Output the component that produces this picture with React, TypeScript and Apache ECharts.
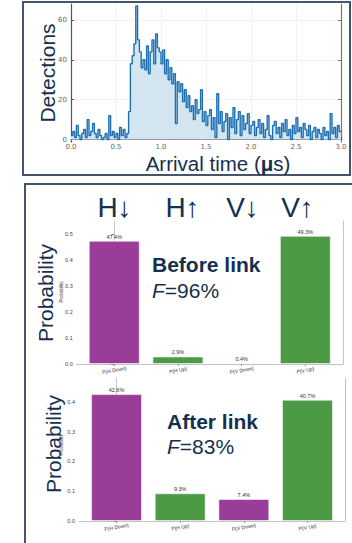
import React, { useEffect, useRef } from "react";
import * as echarts from "echarts";

// ---------- data ----------
const binWidth = 0.02; // µs per histogram bin, bins start at 0.00
const detections = [
  2, 4, 1, 7, 2,
  0, 3, 5, 1, 10,
  2, 4, 8, 3, 1,
  5, 2, 0, 1, 3,
  0, 12, 2, 4, 1,
  3, 0, 6, 2, 5,
  1, 3, 14, 38, 42,
  48, 67, 50, 44, 36,
  40, 35, 47, 33, 44,
  50, 38, 53, 46, 44,
  38, 45, 33, 40, 30,
  36, 28, 33, 8, 29,
  24, 28, 19, 25, 16,
  22, 14, 17, 10, 20,
  13, 15, 25, 9, 14,
  7, 12, 15, 5, 11,
  1, 23, 8, 14, 4,
  9, 13, 0, 11, 6,
  16, 3, 10, 14, 2,
  12, 5, 8, 13, 3,
  7, 9, 2, 6, 10,
  3, 8, 1, 5, 12,
  2, 0, 7, 9, 3,
  6, 1, 8, 4, 10,
  2, 5, 0, 7, 3,
  11, 4, 6, 1, 8,
  5, 2, 7, 0, 4,
  6, 1, 5, 3, 0,
  6, 2, 4, 0, 13,
  3, 6, 1, 7, 4,
];
const detectionTicks = [0, 20, 40, 60];

const categories = ["P(H Down)", "P(H Up)", "P(V Down)", "P(V Up)"];
const stateLabels = ["H↓", "H↑", "V↓", "V↑"];
const beforeLink = [0.474, 0.029, 0.004, 0.493];
const afterLink = [0.426, 0.093, 0.074, 0.407];
const beforeTicks = [0, 0.1, 0.2, 0.3, 0.4, 0.5];
const afterTicks = [0, 0.1, 0.2, 0.3, 0.4];

// ---------- styles ----------
const NAVY = "#172f4f";
const PURPLE = "#993d99";
const GREEN = "#4c9a46";
const barColors = [PURPLE, GREEN, PURPLE, GREEN];
const FRAME = "#44546a";
const SANS = '"Liberation Sans", Arial, sans-serif';

export default function App() {
  const ref = useRef<HTMLDivElement>(null);
  useEffect(() => {
    if (!ref.current) return;
    const chart = echarts.init(ref.current, undefined, { renderer: "svg" });

    const histData: [number, number][] = detections.map((v, i) => [
      +(i * binWidth).toFixed(2),
      v,
    ]);
    histData.push([+(detections.length * binWidth).toFixed(2), detections[detections.length - 1]]);

    const spineX = (grid: number) => ({
      type: "value",
      gridIndex: grid,
      min: -0.59,
      max: 3.59,
      axisLine: { show: true, lineStyle: { color: "#c4c4c4", width: 1 } },
      axisTick: { show: false },
      axisLabel: { show: false },
      splitLine: { show: false },
    });
    const catX = (grid: number) => ({
      type: "category",
      gridIndex: grid,
      data: categories,
      axisLine: { show: false },
      axisTick: { show: true, alignWithLabel: true, length: 2, lineStyle: { color: "#999" } },
      axisLabel: {
        rotate: 10,
        fontSize: 5,
        color: "#333",
        fontFamily: SANS,
        margin: 6,
        align: "center",
        verticalAlign: "middle",
      },
    });
    const probY = (grid: number, max: number, ticks: number[]) => ({
      type: "value",
      gridIndex: grid,
      min: 0,
      max,
      axisLine: { show: true, lineStyle: { color: "#c4c4c4", width: 1 } },
      axisTick: { show: true, length: 3, customValues: ticks, lineStyle: { color: "#888" } },
      axisLabel: {
        customValues: ticks,
        formatter: (v: number) => v.toFixed(1),
        fontSize: 5.5,
        color: "#444",
        fontFamily: SANS,
        margin: 4,
      },
      splitLine: { show: false },
    });
    const rightSpine = (grid: number, max: number) => ({
      type: "value",
      gridIndex: grid,
      position: "right",
      min: 0,
      max,
      axisLine: { show: true, lineStyle: { color: "#c4c4c4", width: 1 } },
      axisTick: { show: false },
      axisLabel: { show: false },
      splitLine: { show: false },
    });
    const hiddenY = (grid: number, max: number) => ({
      type: "value",
      gridIndex: grid,
      min: 0,
      max,
      show: false,
      splitLine: { show: false },
    });
    const barSeries = (xi: number, yi: number, vals: number[]) => ({
      type: "bar",
      xAxisIndex: xi,
      yAxisIndex: yi,
      barWidth: "80%",
      data: vals.map((v, i) => ({
        value: v,
        itemStyle: { color: barColors[i], borderColor: "rgba(255,255,255,0.55)", borderWidth: 1 },
      })),
      label: {
        show: true,
        position: "top",
        distance: 1,
        formatter: (p: any) => (p.value * 100).toFixed(1) + "%",
        fontSize: 5.5,
        color: "#333",
        fontFamily: SANS,
      },
    });

    const bigText = (text: string, x: number, y: number, size: number, extra: any = {}) => ({
      type: "text",
      x,
      y,
      ...extra,
      style: {
        text,
        fontSize: size,
        fontFamily: SANS,
        fill: NAVY,
        align: extra.align || "center",
        verticalAlign: "middle",
        textAlign: extra.align || "center",
        textVerticalAlign: "middle",
        fontWeight: extra.fontWeight || "normal",
      },
    });

    const fidelity = (val: string, x: number, y: number) => ({
      type: "text",
      x,
      y,
      style: {
        text: "{i|F}{r|=" + val + "}",
        rich: {
          i: { fontSize: 21, fontFamily: SANS, fontStyle: "italic", fill: NAVY, color: NAVY },
          r: { fontSize: 21, fontFamily: SANS, fill: NAVY, color: NAVY },
        },
        align: "left",
        verticalAlign: "middle",
        textAlign: "left",
        textVerticalAlign: "middle",
      },
    });

    const stateX = [114.5, 182.5, 242.5, 297.5];

    chart.setOption({
      animation: false,
      backgroundColor: "#ffffff",
      grid: [
        { left: 71, right: 11, top: 4, bottom: 401 },
        { left: 76.7, width: 266.3, top: 221, bottom: 179 },
        { left: 82.4, width: 254.8, top: 221, bottom: 179 },
        { left: 79, width: 266, top: 378, bottom: 22 },
        { left: 84.7, width: 254.6, top: 378, bottom: 22 },
      ],
      xAxis: [
        {
          type: "value",
          gridIndex: 0,
          min: 0,
          max: 3,
          interval: 0.5,
          axisLine: { show: true, lineStyle: { color: "#555", width: 1.2 } },
          axisTick: { show: true, inside: true, length: 3, lineStyle: { color: "#555" } },
          axisLabel: {
            formatter: (v: number) => v.toFixed(1),
            fontSize: 7,
            lineHeight: 7,
            color: "#666",
            fontFamily: '"DejaVu Sans", sans-serif',
            margin: 1.5,
          },
          splitLine: { show: true, lineStyle: { color: "#e6e6e6", type: "dotted", width: 1 } },
        },
        spineX(1),
        catX(2),
        spineX(3),
        catX(4),
      ],
      yAxis: [
        {
          type: "value",
          gridIndex: 0,
          min: -1.25,
          max: 68,
          axisLine: { show: true, lineStyle: { color: "#555", width: 1.2 } },
          axisTick: { show: true, inside: true, length: 3, customValues: detectionTicks, lineStyle: { color: "#555" } },
          axisLabel: {
            customValues: detectionTicks,
            fontSize: 7,
            color: "#666",
            fontFamily: '"DejaVu Sans", sans-serif',
            margin: 4,
          },
          splitLine: { show: true, lineStyle: { color: "#e6e6e6", type: "dotted", width: 1 } },
        },
        {
          type: "value",
          gridIndex: 0,
          position: "right",
          min: -1.25,
          max: 68,
          axisLine: { show: true, lineStyle: { color: "#777", width: 1.2 } },
          axisTick: { show: true, inside: true, length: 3, customValues: detectionTicks, lineStyle: { color: "#777" } },
          axisLabel: { show: false },
          splitLine: { show: false },
        },
        probY(1, 0.55, beforeTicks),
        rightSpine(1, 0.55),
        hiddenY(2, 0.55),
        probY(3, 0.48, afterTicks),
        rightSpine(3, 0.48),
        hiddenY(4, 0.48),
      ],
      series: [
        {
          type: "line",
          xAxisIndex: 0,
          yAxisIndex: 0,
          step: "end",
          symbol: "none",
          data: histData,
          lineStyle: { color: "#1f70b0", width: 1.4 },
          areaStyle: { color: "#d2e5f1", opacity: 1 },
        },
        barSeries(2, 4, beforeLink),
        barSeries(4, 7, afterLink),
      ],
      graphic: [
        {
          type: "rect",
          shape: { x: 23, y: 2, width: 327, height: 173 },
          style: { fill: "none", stroke: FRAME, lineWidth: 2 },
          silent: true,
        },
        {
          type: "rect",
          shape: { x: 25, y: 184, width: 340, height: 380 },
          style: { fill: "none", stroke: FRAME, lineWidth: 2 },
          silent: true,
        },
        bigText("Detections", 47.5, 73, 21, { rotation: Math.PI / 2 }),
        {
          type: "text",
          x: 218,
          y: 163.5,
          style: {
            text: "{a|Arrival time (}{b|μ}{a|s)}",
            rich: {
              a: { fontSize: 20.5, lineHeight: 17, fontFamily: SANS, fill: NAVY, color: NAVY },
              b: { fontSize: 20.5, lineHeight: 17, fontFamily: SANS, fontWeight: "bold", fill: NAVY, color: NAVY },
            },
            align: "center",
            verticalAlign: "middle",
            textAlign: "center",
            textVerticalAlign: "middle",
          },
        },
        ...stateLabels.map((s, i) => bigText(s, stateX[i], 207, 28)),
        bigText("Before link", 152, 264, 21, { align: "left", fontWeight: "bold" }),
        fidelity("96%", 152, 290.5),
        bigText("After link", 167, 421, 21, { align: "left", fontWeight: "bold" }),
        fidelity("83%", 167, 446.5),
        bigText("Probability", 45, 293, 21, { rotation: Math.PI / 2 }),
        bigText("Probability", 53, 444, 21, { rotation: Math.PI / 2 }),
        {
          type: "text",
          x: 61.5,
          y: 292,
          rotation: Math.PI / 2,
          style: { text: "Probability", fontSize: 4.5, fontFamily: SANS, fill: "#444", align: "center", verticalAlign: "middle" },
        },
        {
          type: "text",
          x: 61.5,
          y: 445,
          rotation: Math.PI / 2,
          style: { text: "Probability", fontSize: 4.5, fontFamily: SANS, fill: "#444", align: "center", verticalAlign: "middle" },
        },
      ],
    });
    return () => chart.dispose();
  }, []);
  return (
    <div
      ref={ref}
      style={{ position: "fixed", left: 0, top: 0, width: 352, height: 543, background: "#fff" }}
    />
  );
}
